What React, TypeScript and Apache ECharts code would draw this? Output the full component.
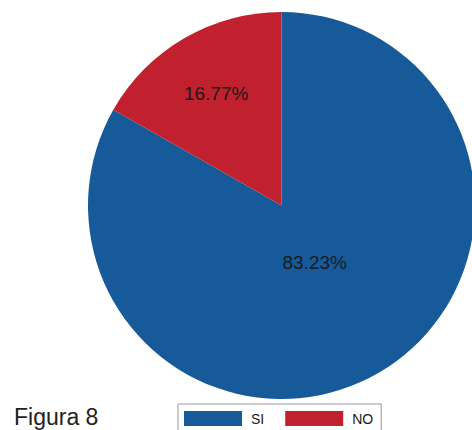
import React, { useEffect, useRef } from "react";
import * as echarts from "echarts";

const categories = ["SI", "NO"];
const values = [83.23, 16.77];
const colors = ["#175A9A", "#C1202E"];
const figureTitle = "Figura 8";

export default function App() {
  const ref = useRef<HTMLDivElement>(null);
  useEffect(() => {
    const chart = echarts.init(ref.current!, null, { renderer: "svg" });
    const data = categories.map((c, i) => ({ name: c, value: values[i], itemStyle: { color: colors[i] } }));
    const center = [281.5, 205.5];
    const labelFmt = (p: any) => p.value.toFixed(2) + "%";
    const baseLabel = {
      show: true,
      position: "inside",
      formatter: labelFmt,
      color: "#1a1a1a",
      fontSize: 19,
      fontFamily: "Liberation Sans",
    };
    chart.setOption({
      animation: false,
      title: {
        text: figureTitle,
        left: 9,
        top: 400,
        textStyle: { fontSize: 23, fontWeight: "normal", color: "#222", fontFamily: "Liberation Sans" },
      },
      legend: {
        data: categories,
        left: 178,
        top: 404,
        orient: "horizontal",
        itemWidth: 58,
        itemHeight: 15,
        itemGap: 21,
        padding: [7, 8, 7, 6],
        borderColor: "#999",
        borderWidth: 1,
        backgroundColor: "#fff",
        icon: "rect",
        textStyle: { fontSize: 14, color: "#1a1a1a", fontFamily: "Liberation Sans", padding: [0, 0, 0, 4] },
      },
      series: [
        {
          type: "pie",
          center,
          radius: [0, 193.5],
          startAngle: 90,
          clockwise: true,
          data,
          label: { show: false },
          labelLine: { show: false },
          emphasis: { disabled: true },
          silent: true,
        },
        {
          type: "pie",
          center,
          radius: [61, 193],
          startAngle: 90,
          clockwise: true,
          silent: true,
          legendHoverLink: false,
          data: categories.map((c, i) => ({
            name: c + " ",
            value: values[i],
            itemStyle: { color: "rgba(0,0,0,0)" },
            label: { show: i === 1 },
          })),
          label: baseLabel,
          labelLine: { show: false },
          emphasis: { disabled: true },
        },
        {
          type: "pie",
          center,
          radius: [0, 126],
          startAngle: 90,
          clockwise: true,
          silent: true,
          legendHoverLink: false,
          data: categories.map((c, i) => ({
            name: c + "  ",
            value: values[i],
            itemStyle: { color: "rgba(0,0,0,0)" },
            label: { show: i === 0 },
          })),
          label: baseLabel,
          labelLine: { show: false },
          emphasis: { disabled: true },
        },
      ],
    });
    return () => chart.dispose();
  }, []);
  return (
    <div
      ref={ref}
      style={{ position: "fixed", left: 0, top: 0, width: 472, height: 430, background: "#fff" }}
    />
  );
}
